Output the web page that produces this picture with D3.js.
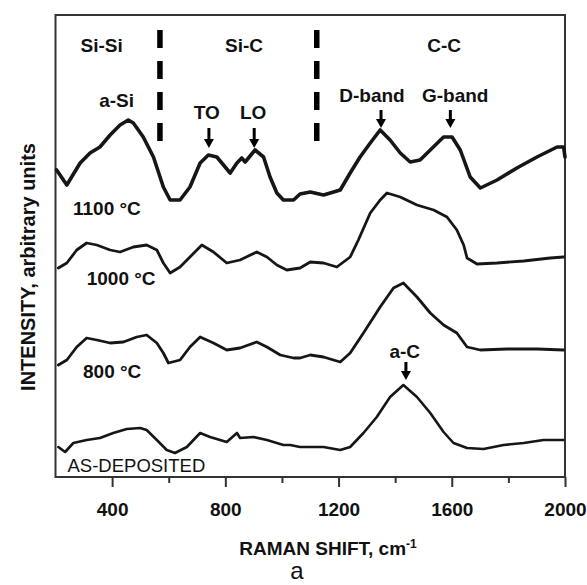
<!DOCTYPE html>
<html>
<head>
<meta charset="utf-8">
<script src="https://cdn.jsdelivr.net/npm/d3@7"></script>
<style>
  body { margin: 0; background: #fff; }
  svg { display: block; }
  text { font-family: "Liberation Sans", Arial, Helvetica, sans-serif; fill: #111; }
</style>
</head>
<body>
<svg id="chart" width="587" height="585"></svg>
<script>
// Raman spectra: [shift (cm-1), intensity (arbitrary, stacked)]
const spectrum1100 = [
  [204,307],[240,292],[257,300],[287,314],[322,324],[357,330],[393,342],[428,352],[457,357],
  [475,354],[510,340],[546,320],[581,290],[605,277],[640,277],[675,290],[711,314],[740,322],
  [770,320],[817,304],[841,314],[858,319],[870,315],[905,327],[935,320],[958,300],[982,284],
  [1005,277],[1041,277],[1064,283],[1100,285],[1147,282],[1206,287],[1241,304],[1276,320],
  [1312,334],[1347,347],[1382,337],[1418,324],[1453,315],[1488,317],[1524,327],[1571,340],
  [1601,340],[1630,327],[1665,300],[1701,289],[1760,297],[1830,309],[1901,320],[1972,330],
  [1995,330],[2000,320]
];
const spectrum1000 = [
  [210,209],[240,214],[275,227],[310,234],[346,232],[393,227],[428,225],[475,230],[522,232],
  [558,227],[581,214],[605,204],[640,210],[675,220],[717,232],[758,225],[805,214],[852,217],
  [911,225],[947,220],[982,212],[1017,207],[1064,209],[1100,215],[1147,214],[1194,210],
  [1241,220],[1270,237],[1312,264],[1347,277],[1371,284],[1418,280],[1477,272],[1536,267],
  [1583,260],[1618,247],[1642,232],[1654,219],[1689,213],[1760,214],[1854,216],[1948,219],
  [1995,220]
];
const spectrum800 = [
  [210,112],[240,117],[275,130],[310,139],[346,137],[393,134],[440,135],[487,140],[522,142],
  [558,134],[581,124],[599,114],[640,117],[675,130],[711,140],[758,134],[805,127],[852,129],
  [911,135],[947,130],[994,122],[1041,119],[1064,119],[1100,122],[1147,120],[1206,115],
  [1241,124],[1288,144],[1347,170],[1394,189],[1429,194],[1477,180],[1524,164],[1571,152],
  [1618,144],[1654,130],[1701,127],[1795,128],[1901,128],[1995,127]
];
const spectrumAsDeposited = [
  [210,30],[234,25],[263,34],[310,37],[357,39],[404,44],[452,48],[499,49],[522,47],[558,37],
  [593,27],[622,24],[664,30],[711,44],[746,40],[805,35],[841,44],[852,39],[899,40],[947,37],
  [1005,32],[1029,32],[1064,30],[1100,30],[1147,30],[1206,27],[1241,30],[1288,44],[1335,60],
  [1382,80],[1429,92],[1477,80],[1524,64],[1571,45],[1606,34],[1654,29],[1712,28],[1783,32],
  [1854,34],[1924,37],[1995,37]
];
const seriesLabels = ["1100 \u00B0C", "1000 \u00B0C", "800 \u00B0C", "AS-DEPOSITED"];

const majorTicks = [400, 800, 1200, 1600, 2000];
const minorTicks = [600, 1000, 1400, 1800];

// bonding regions and their boundaries
const regionNames = ["Si-Si", "Si-C", "C-C"];
const regionCenters = [363, 866, 1573];
const regionBounds = [569, 1123];

// assigned Raman bands
const bandNames = ["a-Si", "TO", "LO", "D-band", "G-band", "a-C"];
const bandShifts = [416, 742, 902, 1350, 1595, 1438];

const svg = d3.select("#chart");
const plot = { left: 55.5, right: 565, top: 15, bottom: 477 };

const x = d3.scaleLinear().domain([200, 2000]).range([plot.left, plot.right]);
const y = d3.scaleLinear().domain([0, 462]).range([plot.bottom, plot.top]);

// frame
svg.append("rect")
  .attr("x", plot.left).attr("y", plot.top)
  .attr("width", plot.right - plot.left).attr("height", plot.bottom - plot.top)
  .attr("fill", "none").attr("stroke", "#333").attr("stroke-width", 2);

// x axis: labelled major ticks and shorter minor ticks, pointing down
const xMajor = d3.axisBottom(x).tickValues(majorTicks).tickSize(10).tickSizeOuter(0)
  .tickFormat(d3.format("d"));
const gMaj = svg.append("g").attr("transform", `translate(0,${plot.bottom})`).call(xMajor);
gMaj.select(".domain").remove();
gMaj.selectAll(".tick line").attr("stroke", "#333").attr("stroke-width", 2);
gMaj.selectAll(".tick text")
  .attr("y", 26).attr("dy", "0.71em")
  .style("font-size", "19px").style("font-weight", "bold").attr("fill", "#111");

const xMinor = d3.axisBottom(x).tickValues(minorTicks).tickSize(6).tickSizeOuter(0).tickFormat("");
const gMin = svg.append("g").attr("transform", `translate(0,${plot.bottom})`).call(xMinor);
gMin.select(".domain").remove();
gMin.selectAll(".tick line").attr("stroke", "#333").attr("stroke-width", 2);

// axis titles
const xt = svg.append("text")
  .attr("x", 328).attr("y", 555)
  .attr("text-anchor", "middle")
  .style("font-size", "19px").style("font-weight", "bold");
xt.append("tspan").text("RAMAN SHIFT, cm");
xt.append("tspan").attr("dy", -7).style("font-size", "12px").text("-1");

svg.append("text")
  .attr("transform", "translate(35,267) rotate(-90)")
  .attr("text-anchor", "middle")
  .style("font-size", "20px").style("font-weight", "bold")
  .text("INTENSITY, arbitrary units");

svg.append("text")
  .attr("x", 297).attr("y", 579)
  .attr("text-anchor", "middle")
  .style("font-size", "24px")
  .text("a");

// spectra
const line = d3.line().x(d => x(d[0])).y(d => y(d[1]));
const spectra = [spectrum1100, spectrum1000, spectrum800, spectrumAsDeposited];
const widths = [3.6, 2.8, 2.8, 2.6];
spectra.forEach((s, i) => {
  svg.append("path").datum(s)
    .attr("d", line)
    .attr("fill", "none").attr("stroke", "#161616")
    .attr("stroke-width", widths[i])
    .attr("stroke-linejoin", "round").attr("stroke-linecap", "round");
});

// spectrum labels
const labelPos = [[73, 215, "bold"], [86.7, 285, "bold"], [83, 378, "bold"], [67.5, 472, "normal"]];
seriesLabels.forEach((t, i) => {
  svg.append("text")
    .attr("x", labelPos[i][0]).attr("y", labelPos[i][1])
    .style("font-size", i === 3 ? "18.5px" : "19px")
    .style("font-weight", labelPos[i][2])
    .text(t);
});

// region boundaries (dashed)
regionBounds.forEach(v => {
  svg.append("line")
    .attr("x1", x(v)).attr("x2", x(v))
    .attr("y1", 30).attr("y2", 142)
    .attr("stroke", "#000").attr("stroke-width", 5.5)
    .attr("stroke-dasharray", "18,13");
});
regionNames.forEach((t, i) => {
  svg.append("text")
    .attr("x", x(regionCenters[i])).attr("y", 52)
    .attr("text-anchor", "middle")
    .style("font-size", "19px").style("font-weight", "bold")
    .text(t);
});

// band labels with arrows: [label x (cm-1), label baseline, arrow top, arrow tip]
const bandLayout = [
  [416, 107, null, null],
  [734, 119, 128, 148],
  [898, 119, 128, 148],
  [1318, 102, 110, 128],
  [1612, 102, 110, 128],
  [1434, 358, 362, 380]
];
bandNames.forEach((t, i) => {
  const [lx, ly, a0, a1] = bandLayout[i];
  svg.append("text")
    .attr("x", x(lx)).attr("y", ly)
    .attr("text-anchor", "middle")
    .style("font-size", "19px").style("font-weight", "bold")
    .text(t);
  if (a0 !== null) {
    const ax = x(bandShifts[i]);
    svg.append("line")
      .attr("x1", ax).attr("x2", ax)
      .attr("y1", a0).attr("y2", a1 - 8)
      .attr("stroke", "#000").attr("stroke-width", 3);
    svg.append("path")
      .attr("d", `M${ax - 5},${a1 - 9}L${ax + 5},${a1 - 9}L${ax},${a1}Z`)
      .attr("fill", "#000");
  }
});
</script>
</body>
</html>
